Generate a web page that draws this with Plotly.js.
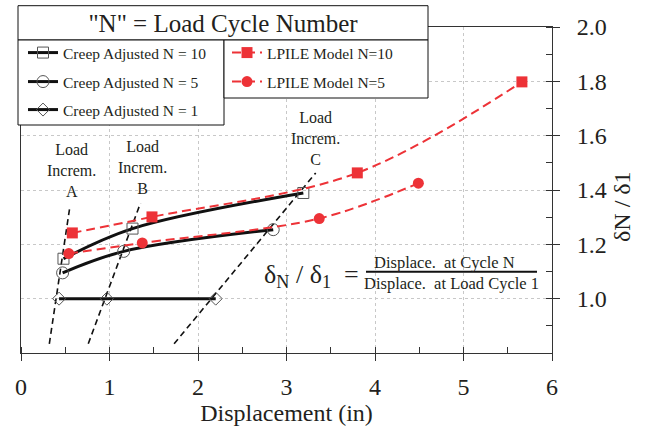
<!DOCTYPE html>
<html>
<head>
<meta charset="utf-8">
<script src="https://cdn.plot.ly/plotly-3.0.1.min.js"></script>
<style>html,body{margin:0;padding:0;background:#fff;}#chart{width:649px;height:431px;}</style>
</head>
<body>
<div id="chart"></div>
<script>
// ---- data ----
const creep10X = [0.48, 1.26, 3.19];
const creep10Y = [1.147, 1.258, 1.389];
const creep5X = [0.47, 1.16, 2.85];
const creep5Y = [1.095, 1.174, 1.254];
const creep1X = [0.43, 0.97, 2.20];
const creep1Y = [1.0, 1.0, 1.0];
const lpile10X = [0.58, 1.48, 3.80, 5.66];
const lpile10Y = [1.242, 1.301, 1.463, 1.798];
const lpile5X = [0.54, 1.37, 3.37, 4.49];
const lpile5Y = [1.166, 1.205, 1.295, 1.425];
const incAX = [0.32, 0.55];
const incAY = [0.834, 1.334];
const incBX = [0.76, 1.35];
const incBY = [0.834, 1.352];
const incCX = [1.73, 3.33];
const incCY = [0.834, 1.463];
const seriesNames = ["Creep Adjusted N = 10", "Creep Adjusted N = 5", "Creep Adjusted N = 1", "LPILE Model N=10", "LPILE Model N=5"];
const xTickVals = [0, 1, 2, 3, 4, 5, 6];
const xTickText = ["0", "1", "2", "3", "4", "5", "6"];
const yTickVals = [1.0, 1.2, 1.4, 1.6, 1.8, 2.0];
const yTickText = ["1.0", "1.2", "1.4", "1.6", "1.8", "2.0"];

// ---- layout helpers (pixel -> paper) ----
const PL = 21, PR = 552, PT = 27, PB = 353;
const fx = p => (p - PL) / (PR - PL);
const fy = p => (PB - p) / (PB - PT);

const SERIF = "Liberation Serif, 'Times New Roman', 'DejaVu Serif', serif";
const TXT = "#231f20";
const RED = "#ed3237";
const GRAY = "#555";

const traces = [
  {x: incAX, y: incAY, mode: "lines", line: {color: "#111", width: 1.6, dash: "6px,4px"}, showlegend: false, hoverinfo: "skip"},
  {x: incBX, y: incBY, mode: "lines", line: {color: "#111", width: 1.6, dash: "6px,4px"}, showlegend: false, hoverinfo: "skip"},
  {x: incCX, y: incCY, mode: "lines", line: {color: "#111", width: 1.6, dash: "6px,4px"}, showlegend: false, hoverinfo: "skip"},
  {x: creep10X, y: creep10Y, name: seriesNames[0], mode: "lines+markers", legend: "legend",
   line: {color: "#111", width: 3, shape: "spline", smoothing: 1}, marker: {symbol: "square-open", size: 11, color: GRAY, line: {width: 1}}},
  {x: creep5X, y: creep5Y, name: seriesNames[1], mode: "lines+markers", legend: "legend3",
   line: {color: "#111", width: 3, shape: "spline", smoothing: 1}, marker: {symbol: "circle-open", size: 12, color: GRAY, line: {width: 1}}},
  {x: creep1X, y: creep1Y, name: seriesNames[2], mode: "lines+markers", legend: "legend4",
   line: {color: "#111", width: 3}, marker: {symbol: "diamond-open", size: 10, color: GRAY, line: {width: 1}}},
  {x: lpile10X, y: lpile10Y, name: seriesNames[3], mode: "lines+markers", legend: "legend2",
   line: {color: RED, width: 2, dash: "9px,5px", shape: "spline", smoothing: 1}, marker: {symbol: "square", size: 11, color: RED}},
  {x: lpile5X, y: lpile5Y, name: seriesNames[4], mode: "lines+markers", legend: "legend5",
   line: {color: RED, width: 2, dash: "9px,5px", shape: "spline", smoothing: 1}, marker: {symbol: "circle", size: 11, color: RED}}
];

const boxLine = {color: "#111", width: 1};
const legendFont = {family: SERIF, size: 15.5, color: TXT};
const mkLegend = (px, rowCenter) => ({
  x: fx(px), y: fy(rowCenter - 17), xanchor: "left", yanchor: "top", xref: "paper", yref: "paper",
  bgcolor: "rgba(0,0,0,0)", borderwidth: 0, font: legendFont
});
const layout = {
  width: 649, height: 431,
  margin: {l: PL, r: 649 - PR, t: PT, b: 431 - PB, pad: 0},
  paper_bgcolor: "#fff", plot_bgcolor: "#fff",
  font: {family: SERIF, color: TXT, size: 16},
  title: {text: "\"N\" = Load Cycle Number", font: {family: SERIF, size: 25, color: TXT},
          xref: "paper", x: fx(223), xanchor: "center", yref: "container", y: 1 - 23 / 431, yanchor: "middle"},
  xaxis: {
    range: [0, 6], tickvals: xTickVals, ticktext: xTickText,
    ticks: "outside", ticklen: 7, tickcolor: "#333", tickwidth: 1,
    minor: {dtick: 0.5, ticks: "inside", ticklen: 6, tickcolor: "#333", showgrid: false},
    showline: true, linecolor: "#333", linewidth: 1, mirror: true,
    showgrid: true, gridcolor: "#c8c8c8", griddash: "dot", gridwidth: 1,
    zeroline: false,
    tickfont: {family: SERIF, size: 24, color: TXT}, ticklabelstandoff: 5,
    title: {text: "Displacement (in)", font: {family: SERIF, size: 24, color: TXT}, standoff: 2}
  },
  yaxis: {
    range: [0.8, 2.0], side: "right", tickvals: yTickVals, ticktext: yTickText,
    ticks: "outside", ticklen: 7, tickcolor: "#333", tickwidth: 1,
    minor: {dtick: 0.1, ticks: "inside", ticklen: 6, tickcolor: "#333", showgrid: false},
    showline: true, linecolor: "#333", linewidth: 1, mirror: true,
    showgrid: true, gridcolor: "#c8c8c8", griddash: "dot", gridwidth: 1,
    zeroline: false,
    tickfont: {family: SERIF, size: 24, color: TXT}, ticklabelstandoff: 12
  },
  legend: mkLegend(23, 53),
  legend3: mkLegend(23, 82),
  legend4: mkLegend(23, 110),
  legend2: mkLegend(227, 53),
  legend5: mkLegend(227, 82),
  shapes: [
    {type: "rect", xref: "paper", yref: "paper", x0: fx(18), x1: fx(428), y0: fy(40), y1: fy(5.7), fillcolor: "#fff", line: boxLine, layer: "above"},
    {type: "rect", xref: "paper", yref: "paper", x0: fx(18), x1: fx(224), y0: fy(125), y1: fy(40), fillcolor: "#fff", line: boxLine, layer: "above"},
    {type: "rect", xref: "paper", yref: "paper", x0: fx(224), x1: fx(428), y0: fy(98), y1: fy(40), fillcolor: "#fff", line: boxLine, layer: "above"},
    {type: "line", xref: "paper", yref: "paper", x0: fx(366), x1: fx(537), y0: fy(271.7), y1: fy(271.7), line: {color: "#111", width: 2}, layer: "above"}
  ],
  annotations: [
    {text: "δN / δ1", xref: "paper", yref: "paper", x: fx(622), y: fy(207), xanchor: "center", yanchor: "middle", textangle: -90, showarrow: false, font: {family: SERIF, size: 24, color: TXT}},
    {text: "Load<br>Increm.<br>A", xref: "paper", yref: "paper", x: fx(71), y: fy(170), xanchor: "center", yanchor: "middle", showarrow: false, font: {family: SERIF, size: 16, color: TXT}},
    {text: "Load<br>Increm.<br>B", xref: "paper", yref: "paper", x: fx(142), y: fy(168), xanchor: "center", yanchor: "middle", showarrow: false, font: {family: SERIF, size: 16, color: TXT}},
    {text: "Load<br>Increm.<br>C", xref: "paper", yref: "paper", x: fx(315), y: fy(138), xanchor: "center", yanchor: "middle", showarrow: false, font: {family: SERIF, size: 16, color: TXT}},
    {text: "δ<sub>N</sub> / δ<sub>1</sub>  =", xref: "paper", yref: "paper", x: fx(262), y: fy(276), xanchor: "left", yanchor: "middle", showarrow: false, font: {family: SERIF, size: 26, color: TXT}},
    {text: "Displace.  at Cycle N", xref: "paper", yref: "paper", x: fx(444.5), y: fy(262), xanchor: "center", yanchor: "middle", showarrow: false, font: {family: SERIF, size: 16.5, color: TXT}},
    {text: "Displace.  at Load Cycle 1", xref: "paper", yref: "paper", x: fx(451), y: fy(283), xanchor: "center", yanchor: "middle", showarrow: false, font: {family: SERIF, size: 16.5, color: TXT}}
  ]
};

Plotly.newPlot("chart", traces, layout, {displayModeBar: false, staticPlot: true});
</script>
</body>
</html>
